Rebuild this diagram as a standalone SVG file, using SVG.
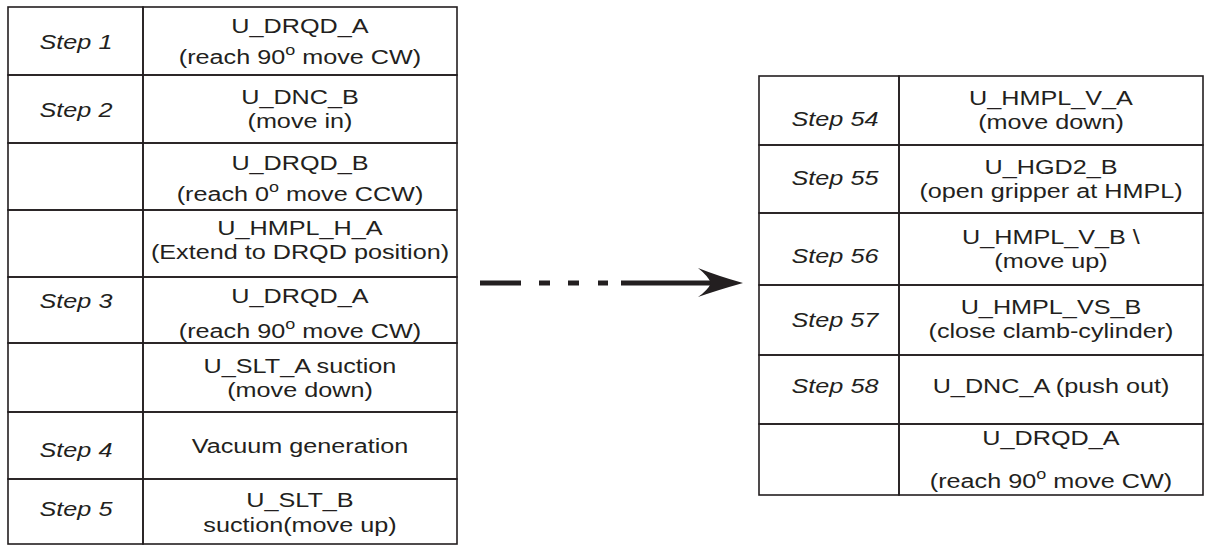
<svg xmlns="http://www.w3.org/2000/svg" width="1205" height="550" viewBox="0 0 1205 550">
  <style>
    .cell { fill: none; stroke: #231f20; stroke-width: 1.6; }
    .t { font-family: "Liberation Sans", Arial, sans-serif; font-size: 21px; fill: #231f20; text-anchor: middle;
         transform-box: fill-box; transform-origin: center; transform: scaleX(1.2); }
    .s { font-style: italic; }
    .deg { font-size: 15px; }
    .dash { stroke: #231f20; stroke-width: 5; fill: none; }
  </style>
  <rect width="1205" height="550" fill="#ffffff"/>

  <!-- Left sequence table: step column 8..143, action column 143..457 -->
  <g id="left-row-1">
    <rect class="cell" x="8" y="7" width="135" height="68"/>
    <rect class="cell" x="143" y="7" width="314" height="68"/>
    <text class="t s" x="76" y="49">Step 1</text>
    <text class="t" x="300" y="33">U_DRQD_A</text>
    <text class="t" x="300" y="64">(reach 90<tspan class="deg" dy="-9">o</tspan><tspan dy="9"> move CW)</tspan></text>
  </g>
  <g id="left-row-2">
    <rect class="cell" x="8" y="75" width="135" height="68"/>
    <rect class="cell" x="143" y="75" width="314" height="68"/>
    <text class="t s" x="76" y="117">Step 2</text>
    <text class="t" x="300" y="104">U_DNC_B</text>
    <text class="t" x="300" y="128">(move in)</text>
  </g>
  <g id="left-row-3">
    <rect class="cell" x="8" y="143" width="135" height="67"/>
    <rect class="cell" x="143" y="143" width="314" height="67"/>
    <text class="t" x="300" y="170">U_DRQD_B</text>
    <text class="t" x="300" y="201">(reach 0<tspan class="deg" dy="-9">o</tspan><tspan dy="9"> move CCW)</tspan></text>
  </g>
  <g id="left-row-4">
    <rect class="cell" x="8" y="210" width="135" height="67"/>
    <rect class="cell" x="143" y="210" width="314" height="67"/>
    <text class="t" x="300" y="235">U_HMPL_H_A</text>
    <text class="t" x="300" y="259">(Extend to DRQD position)</text>
  </g>
  <g id="left-row-5">
    <rect class="cell" x="8" y="277" width="135" height="66"/>
    <rect class="cell" x="143" y="277" width="314" height="66"/>
    <text class="t s" x="76" y="308">Step 3</text>
    <text class="t" x="300" y="303">U_DRQD_A</text>
    <text class="t" x="300" y="338">(reach 90<tspan class="deg" dy="-9">o</tspan><tspan dy="9"> move CW)</tspan></text>
  </g>
  <g id="left-row-6">
    <rect class="cell" x="8" y="343" width="135" height="69"/>
    <rect class="cell" x="143" y="343" width="314" height="69"/>
    <text class="t" x="300" y="373">U_SLT_A suction</text>
    <text class="t" x="300" y="397">(move down)</text>
  </g>
  <g id="left-row-7">
    <rect class="cell" x="8" y="412" width="135" height="67"/>
    <rect class="cell" x="143" y="412" width="314" height="67"/>
    <text class="t s" x="76" y="457">Step 4</text>
    <text class="t" x="300" y="453">Vacuum generation</text>
  </g>
  <g id="left-row-8">
    <rect class="cell" x="8" y="479" width="135" height="65"/>
    <rect class="cell" x="143" y="479" width="314" height="65"/>
    <text class="t s" x="76" y="516">Step 5</text>
    <text class="t" x="300" y="507">U_SLT_B</text>
    <text class="t" x="300" y="532">suction(move up)</text>
  </g>

  <!-- Right sequence table: step column 759..899, action column 899..1203 -->
  <g id="right-row-54">
    <rect class="cell" x="759" y="76" width="140" height="69"/>
    <rect class="cell" x="899" y="76" width="304" height="69"/>
    <text class="t s" x="835" y="126">Step 54</text>
    <text class="t" x="1051" y="105">U_HMPL_V_A</text>
    <text class="t" x="1051" y="129">(move down)</text>
  </g>
  <g id="right-row-55">
    <rect class="cell" x="759" y="145" width="140" height="68"/>
    <rect class="cell" x="899" y="145" width="304" height="68"/>
    <text class="t s" x="835" y="185">Step 55</text>
    <text class="t" x="1051" y="174">U_HGD2_B</text>
    <text class="t" x="1051" y="198">(open gripper at HMPL)</text>
  </g>
  <g id="right-row-56">
    <rect class="cell" x="759" y="213" width="140" height="72"/>
    <rect class="cell" x="899" y="213" width="304" height="72"/>
    <text class="t s" x="835" y="263">Step 56</text>
    <text class="t" x="1051" y="244">U_HMPL_V_B \</text>
    <text class="t" x="1051" y="268">(move up)</text>
  </g>
  <g id="right-row-57">
    <rect class="cell" x="759" y="285" width="140" height="70"/>
    <rect class="cell" x="899" y="285" width="304" height="70"/>
    <text class="t s" x="835" y="327">Step 57</text>
    <text class="t" x="1051" y="314">U_HMPL_VS_B</text>
    <text class="t" x="1051" y="338">(close clamb-cylinder)</text>
  </g>
  <g id="right-row-58">
    <rect class="cell" x="759" y="355" width="140" height="69"/>
    <rect class="cell" x="899" y="355" width="304" height="69"/>
    <text class="t s" x="835" y="393">Step 58</text>
    <text class="t" x="1051" y="393">U_DNC_A (push out)</text>
  </g>
  <g id="right-row-59">
    <rect class="cell" x="759" y="424" width="140" height="71"/>
    <rect class="cell" x="899" y="424" width="304" height="71"/>
    <text class="t" x="1051" y="445">U_DRQD_A</text>
    <text class="t" x="1051" y="488">(reach 90<tspan class="deg" dy="-9">o</tspan><tspan dy="9"> move CW)</tspan></text>
  </g>

  <!-- Continuation connector: dashed lead-in, solid shaft, swept arrowhead -->
  <g id="connectors">
    <line class="dash" x1="480" y1="283" x2="521" y2="283"/>
    <line class="dash" x1="539" y1="283" x2="550" y2="283"/>
    <line class="dash" x1="568" y1="283" x2="579" y2="283"/>
    <line class="dash" x1="598" y1="283" x2="608" y2="283"/>
    <line class="dash" x1="621" y1="283" x2="714" y2="283"/>
    <path d="M743 283 Q718 276 698 268 Q708 276 711 283 Q708 290 698 297 Q718 290 743 283 Z" fill="#231f20"/>
  </g>
</svg>
